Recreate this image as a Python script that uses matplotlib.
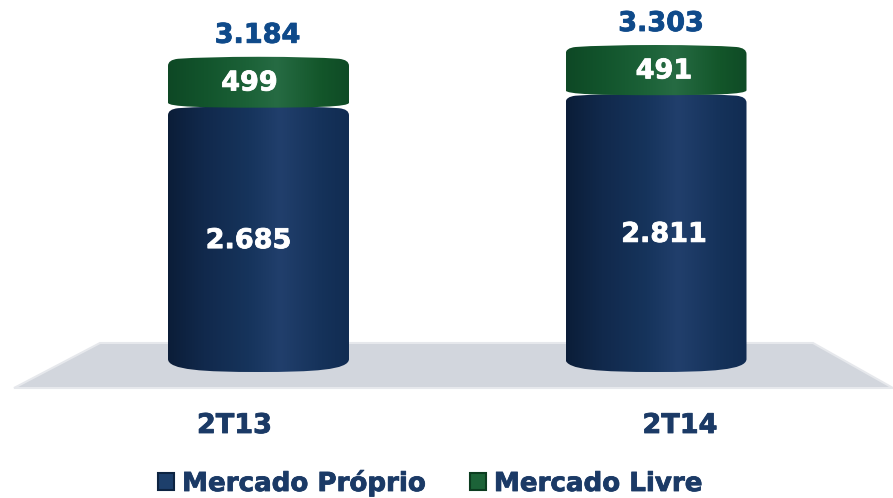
import numpy as np
import matplotlib
matplotlib.use('Agg')
import matplotlib.pyplot as plt
import matplotlib.patheffects as pe
from matplotlib.patches import PathPatch, Polygon, Patch
from matplotlib.path import Path
from matplotlib.colors import LinearSegmentedColormap

# dados (GWh por trimestre)
trimestres = ['2T13', '2T14']
mercado_proprio = [2685, 2811]
mercado_livre = [499, 491]
totais = [3184, 3303]
serie_nomes = ['Mercado Próprio', 'Mercado Livre']

W, H = 893, 498
base_px = 372        # linha do zero em pixels
esc_y = 0.099        # pixels por unidade
esc_x = 397.5        # pixels entre categorias
x0_px = 258.5

fig = plt.figure(figsize=(W / 100, H / 100), dpi=100)
ax = fig.add_axes([0, 0, 1, 1])
ax.set_xlim(-x0_px / esc_x, (W - x0_px) / esc_x)
ax.set_ylim(-(H - base_px) / esc_y, base_px / esc_y)
ax.axis('off')

azul = LinearSegmentedColormap.from_list('azul', [(0, '#0b1d38'), (0.2, '#11294c'), (0.45, '#16345c'),
                                                  (0.62, '#213f6c'), (0.85, '#15325a'), (1, '#112c52')])
verde = LinearSegmentedColormap.from_list('verde', [(0, '#0e4825'), (0.2, '#12542c'), (0.45, '#1c6238'),
                                                    (0.6, '#266b43'), (0.85, '#13562a'), (1, '#0f4b26')])


def cilindro(cx, y_base, y_topo, cmap, sag_base, zorder):
    # corpo com base e topo curvos, preenchido com degrade horizontal
    hw = 90.5 / esc_x
    dx = 10 / esc_x
    up = 1 / esc_y
    e, d = cx - hw, cx + hw
    lado_b = y_base + sag_base * up
    meio = hw * 0.6
    verts = [(e, lado_b),
             (e, y_base + sag_base * 0.15 * up), (cx - meio, y_base), (cx, y_base),
             (cx + meio, y_base), (d, y_base + sag_base * 0.15 * up), (d, lado_b),
             (d, y_topo - 9 * up),
             (d, y_topo - 3 * up), (d - dx, y_topo - 2 * up),
             (cx + meio, y_topo), (cx, y_topo),
             (cx - meio, y_topo), (e + dx, y_topo - 2 * up),
             (e, y_topo - 3 * up), (e, y_topo - 9 * up),
             (e, lado_b)]
    codes = [Path.MOVETO,
             Path.CURVE4, Path.CURVE4, Path.CURVE4,
             Path.CURVE4, Path.CURVE4, Path.CURVE4,
             Path.LINETO,
             Path.CURVE3, Path.CURVE3,
             Path.CURVE3, Path.CURVE3,
             Path.CURVE3, Path.CURVE3,
             Path.CURVE3, Path.CURVE3,
             Path.CLOSEPOLY]
    patch = PathPatch(Path(verts, codes), fc='none', ec='none', zorder=zorder)
    ax.add_patch(patch)
    grad = np.linspace(0, 1, 256).reshape(1, -1)
    im = ax.imshow(grad, cmap=cmap, extent=[e, d, y_base - 10, y_topo + 10], aspect='auto',
                   zorder=zorder, interpolation='bilinear')
    im.set_clip_path(patch)


def rotulo(txt, xy, dx, dy, cor):
    t = ax.annotate(txt, xy, xytext=(dx, dy - 2), textcoords='offset pixels', ha='center', va='center',
                    fontsize=19.5, fontweight='bold', color=cor, zorder=5)
    t.set_path_effects([pe.withStroke(linewidth=0.6, foreground=cor)])
    return t


# chao cinza atras das barras (coordenadas do eixo)
chao = Polygon([(100 / W, 1 - 343 / H), (14 / W, 1 - 388 / H), (W / W, 1 - 388 / H), (813 / W, 1 - 343 / H)],
               closed=True, transform=ax.transAxes, fc='#d2d6dd', ec='#e6e8ec', lw=1.5, zorder=1)
ax.add_patch(chao)

desloc_x_total = [-1, 5]
desloc_x_proprio = [-10, 8]
desloc_x_livre = [-9, 8]
desloc_x_cat = [-24, 24]

for i, t in enumerate(trimestres):
    p, l, tot = mercado_proprio[i], mercado_livre[i], totais[i]
    cilindro(i, 0, p, azul, 13, 2)
    cilindro(i, p - 15, tot, verde, 5, 3)
    rotulo(f'{tot:,}'.replace(',', '.'), (i, tot), desloc_x_total[i], 23, '#0f4a8a')
    rotulo(f'{p:,}'.replace(',', '.'), (i, p / 2), desloc_x_proprio[i], 0, 'white')
    rotulo(str(l), (i, p + l / 2), desloc_x_livre[i], 0, 'white')
    rotulo(t, (i, 0), desloc_x_cat[i], -52, '#1b3a66')

marcas = [Patch(fc='#1d3f6b', ec='#0d2442', lw=1.5), Patch(fc='#1c6338', ec='#0c3d20', lw=1.5)]
leg = ax.legend(marcas, serie_nomes, loc='lower left', bbox_to_anchor=(158 / W, 0.002), ncol=2, frameon=False,
                fontsize=18.8, handlelength=0.62, handleheight=0.62, handletextpad=0.3, columnspacing=1.65,
                borderpad=0, borderaxespad=0)
for txt in leg.get_texts():
    txt.set_fontweight('bold')
    txt.set_color('#1b3a66')
    txt.set_path_effects([pe.withStroke(linewidth=0.6, foreground='#1b3a66')])

fig.savefig('out.png', dpi=100, facecolor='white')
